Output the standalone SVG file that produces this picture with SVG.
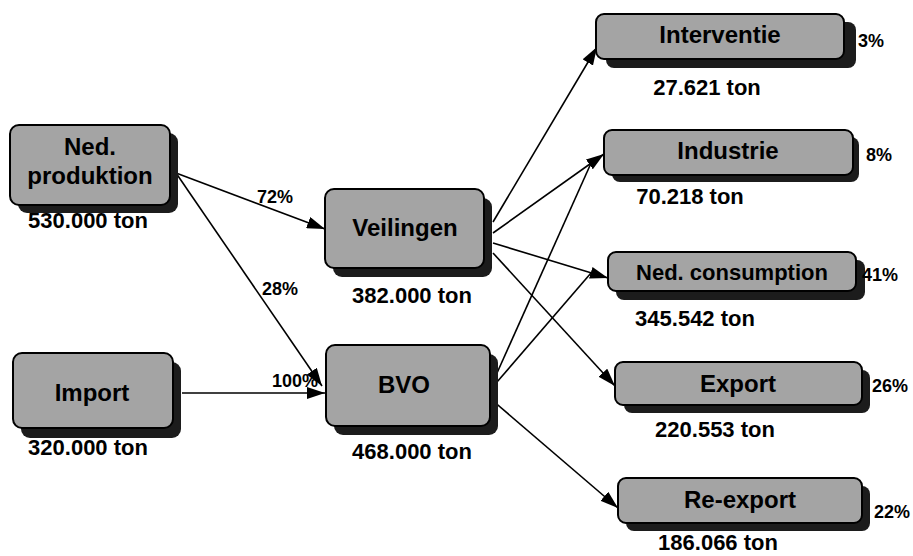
<svg xmlns="http://www.w3.org/2000/svg" width="913" height="556" viewBox="0 0 913 556">
<style>
.box{fill:#a4a4a4;stroke:#000;stroke-width:2}
.sh{fill:#1c1c1c}
.nt{font-family:"Liberation Sans",Arial,sans-serif;font-weight:bold;font-size:24px;fill:#000;text-anchor:middle}
.vt{font-family:"Liberation Sans",Arial,sans-serif;font-weight:bold;font-size:22px;fill:#000;text-anchor:middle}
.pt{font-family:"Liberation Sans",Arial,sans-serif;font-weight:bold;font-size:18px;fill:#000}
.ln{stroke:#000;stroke-width:1.6;fill:none}
</style>
<defs>
<marker id="ah" markerUnits="userSpaceOnUse" markerWidth="20" markerHeight="12" refX="18" refY="6" orient="auto">
<path d="M0,0 L18,6 L0,12 Z" fill="#000"/>
</marker>
</defs>
<rect width="913" height="556" fill="#fff"/>

<g id="connectors">
<line class="ln" x1="176" y1="173" x2="325" y2="229" marker-end="url(#ah)"/>
<line class="ln" x1="176" y1="173" x2="322" y2="386" marker-end="url(#ah)"/>
<line class="ln" x1="182" y1="393" x2="325" y2="393" marker-end="url(#ah)"/>
<line class="ln" x1="493" y1="222" x2="597" y2="47" marker-end="url(#ah)"/>
<line class="ln" x1="493" y1="233" x2="604" y2="154" marker-end="url(#ah)"/>
<line class="ln" x1="497" y1="373" x2="592" y2="161"/>
<line class="ln" x1="493" y1="243" x2="608" y2="278" marker-end="url(#ah)"/>
<line class="ln" x1="497" y1="382" x2="591" y2="273"/>
<line class="ln" x1="493" y1="253" x2="615" y2="386" marker-end="url(#ah)"/>
<line class="ln" x1="492" y1="400" x2="618" y2="508" marker-end="url(#ah)"/>
<text class="pt" x="257" y="203">72%</text>
<text class="pt" x="262" y="295">28%</text>
<text class="pt" x="272" y="387">100%</text>
</g>

<g id="ned-produktion">
<rect class="sh" x="18" y="133" width="160" height="80" rx="9"/>
<rect class="box" x="10" y="125" width="160" height="80" rx="9"/>
<text class="nt" x="90" y="155">Ned.</text>
<text class="nt" x="90" y="184">produktion</text>
<text class="vt" x="88" y="228">530.000 ton</text>
</g>

<g id="import">
<rect class="sh" x="21" y="362" width="160" height="76" rx="9"/>
<rect class="box" x="13" y="353" width="160" height="75" rx="9"/>
<text class="nt" x="92" y="401">Import</text>
<text class="vt" x="88" y="455">320.000 ton</text>
</g>

<g id="veilingen">
<rect class="sh" x="333" y="198" width="159" height="79" rx="9"/>
<rect class="box" x="325" y="189" width="159" height="79" rx="9"/>
<text class="nt" x="405" y="236">Veilingen</text>
<text class="vt" x="412" y="303">382.000 ton</text>
</g>

<g id="bvo">
<rect class="sh" x="334" y="354" width="164" height="81" rx="9"/>
<rect class="box" x="326" y="345" width="164" height="81" rx="9"/>
<text class="nt" x="404" y="393">BVO</text>
<text class="vt" x="412" y="459">468.000 ton</text>
</g>

<g id="interventie">
<rect class="sh" x="606" y="22" width="250" height="46" rx="8"/>
<rect class="box" x="596" y="14" width="248" height="45" rx="8"/>
<text class="nt" x="720" y="43">Interventie</text>
<text class="pt" x="858" y="47">3%</text>
<text class="vt" x="707" y="95">27.621 ton</text>
</g>

<g id="industrie">
<rect class="sh" x="612" y="137" width="247" height="45" rx="8"/>
<rect class="box" x="604" y="130" width="249" height="45" rx="8"/>
<text class="nt" x="728" y="159">Industrie</text>
<text class="pt" x="866" y="161">8%</text>
<text class="vt" x="690" y="204">70.218 ton</text>
</g>

<g id="ned-consumption">
<rect class="sh" x="616" y="260" width="249" height="40" rx="8"/>
<rect class="box" x="608" y="252" width="248" height="39" rx="8"/>
<text class="nt" x="732" y="280" style="font-size:22px">Ned. consumption</text>
<text class="pt" x="862" y="281">41%</text>
<text class="vt" x="695" y="326">345.542 ton</text>
</g>

<g id="export">
<rect class="sh" x="624" y="370" width="246" height="43" rx="8"/>
<rect class="box" x="615" y="362" width="247" height="43" rx="8"/>
<text class="nt" x="738" y="392">Export</text>
<text class="pt" x="872" y="392">26%</text>
<text class="vt" x="715" y="437">220.553 ton</text>
</g>

<g id="re-export">
<rect class="sh" x="626" y="486" width="244" height="45" rx="8"/>
<rect class="box" x="618" y="478" width="244" height="45" rx="8"/>
<text class="nt" x="740" y="508">Re-export</text>
<text class="pt" x="874" y="518">22%</text>
<text class="vt" x="718" y="550">186.066 ton</text>
</g>
</svg>
